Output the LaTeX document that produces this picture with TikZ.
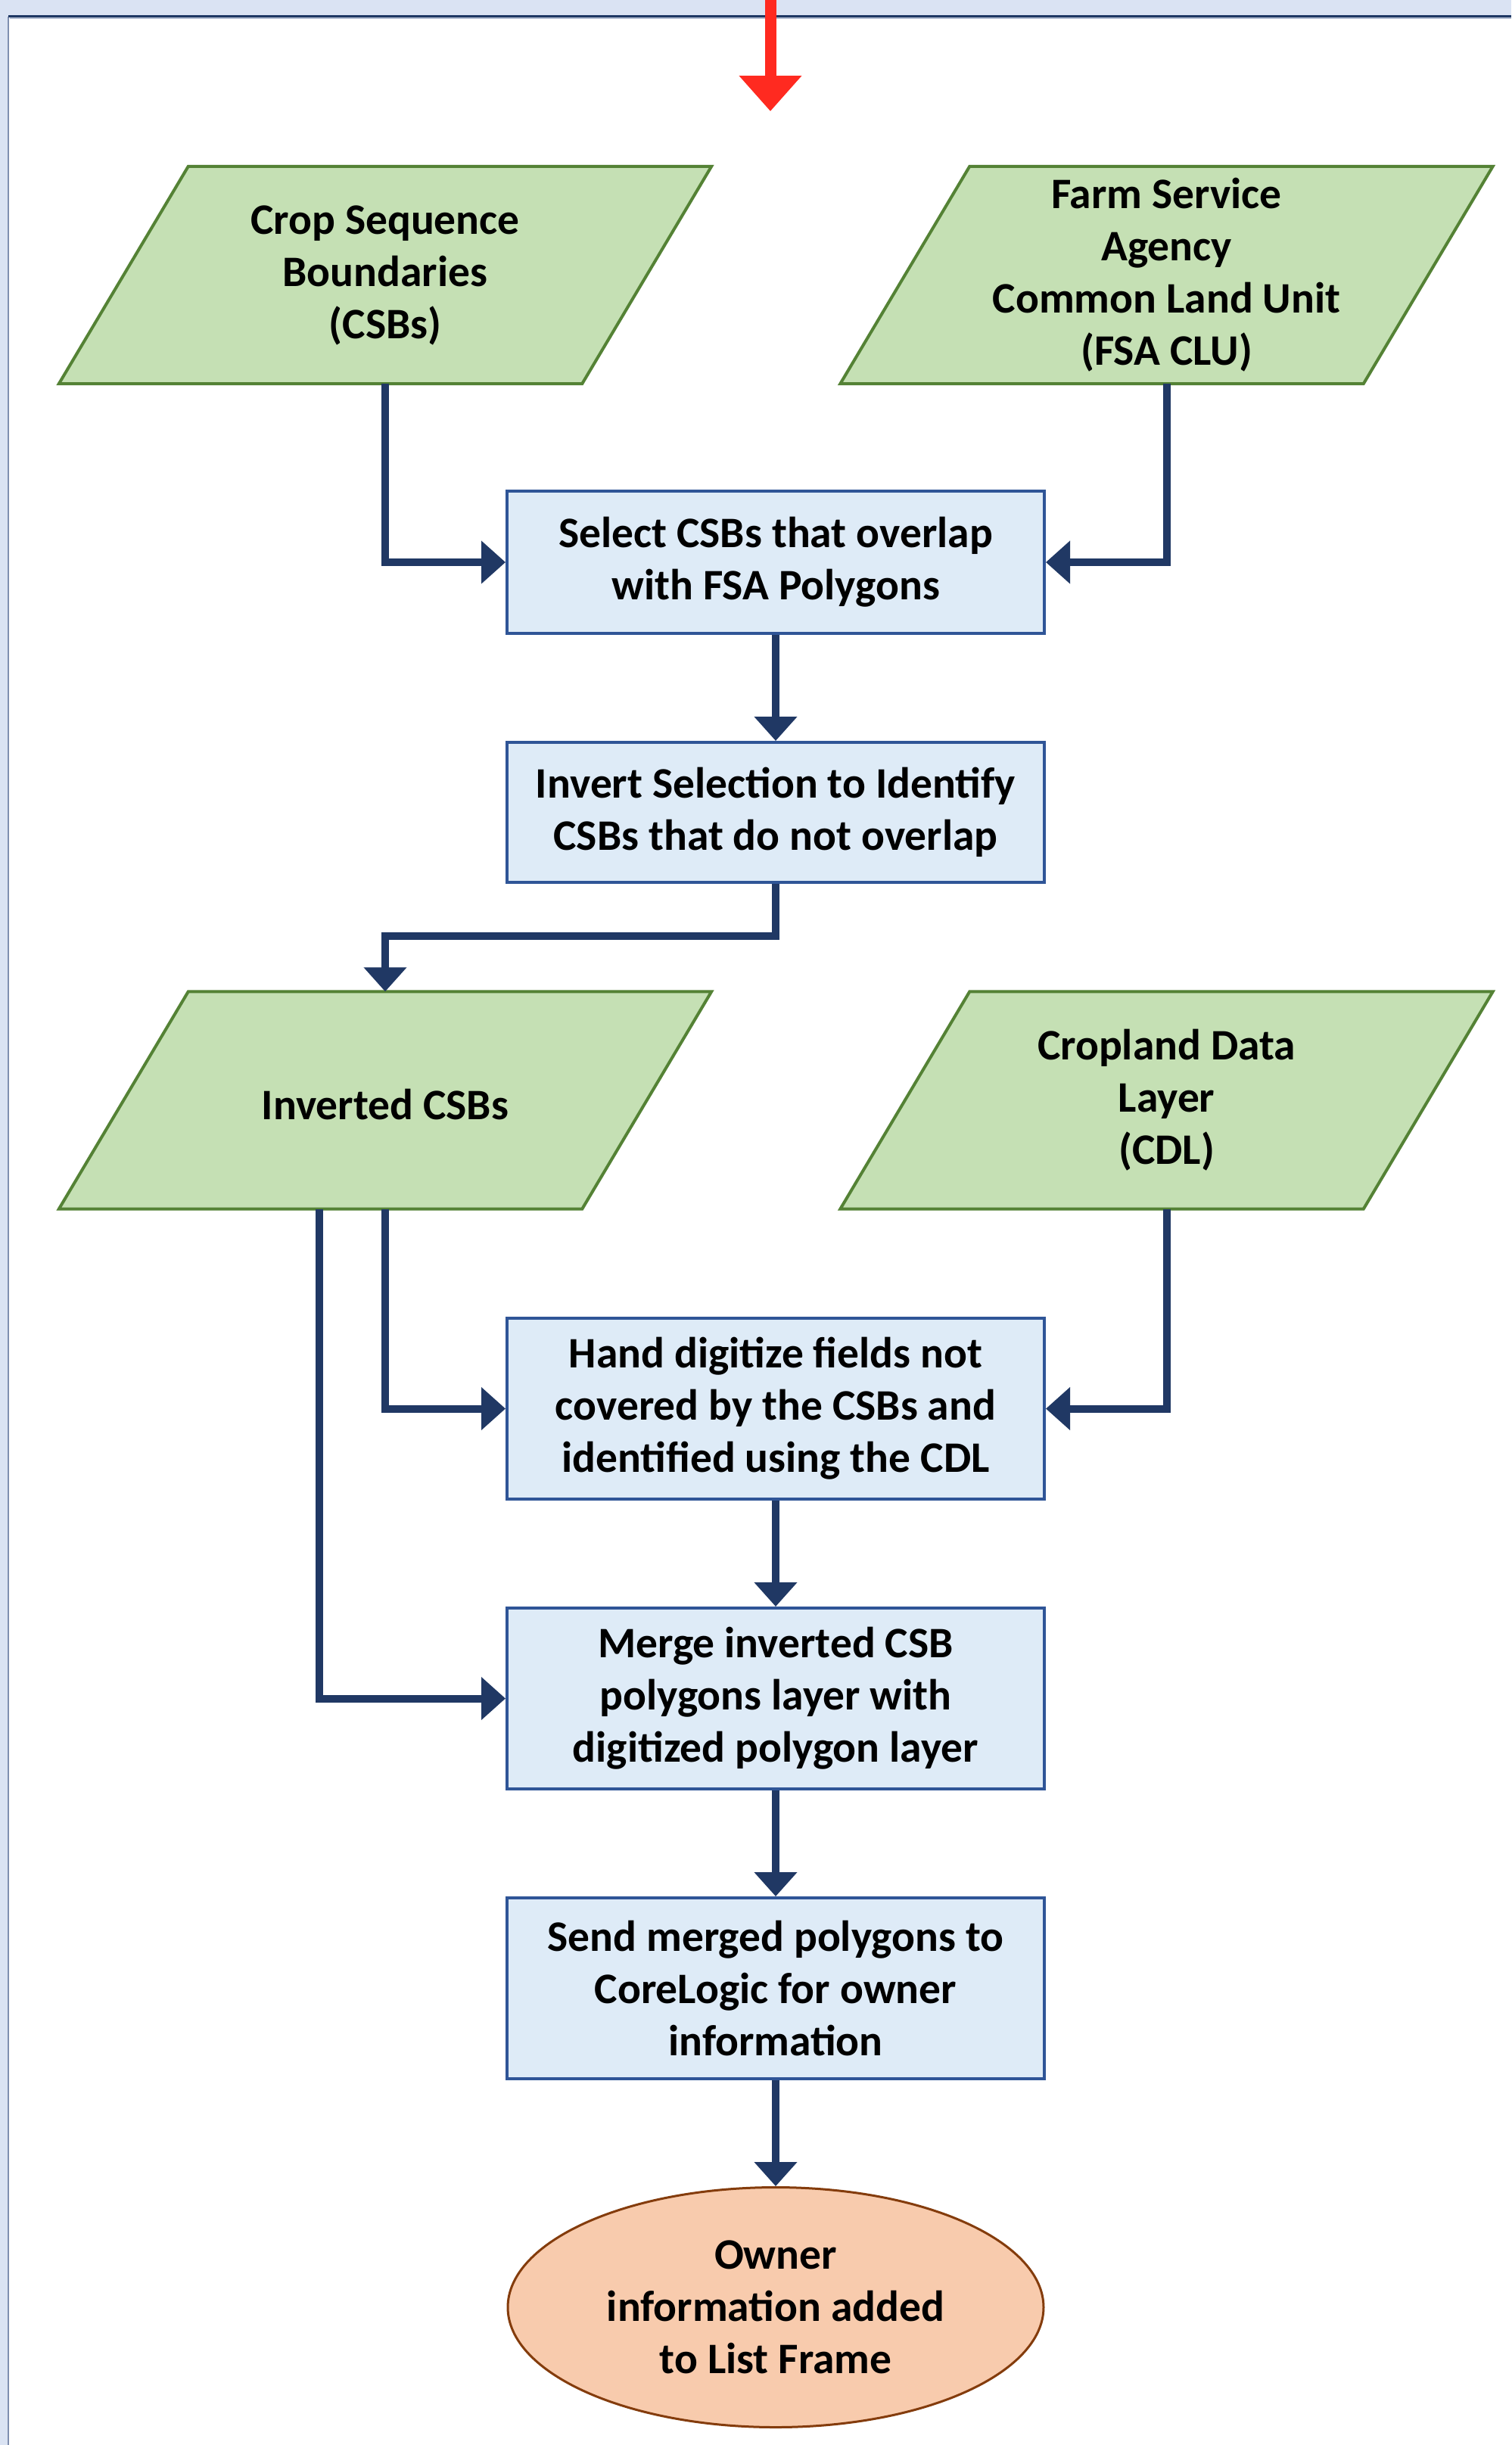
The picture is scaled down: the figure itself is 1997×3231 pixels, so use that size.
\documentclass[tikz,border=0pt]{standalone}
\usepackage{fontspec}
\setmainfont{Carlito}
\usetikzlibrary{arrows.meta,shapes.geometric,backgrounds,calc}
\definecolor{bandblue}{HTML}{DAE3F3}
\definecolor{framedark}{HTML}{1F3864}
\definecolor{frameline}{HTML}{7F8FB0}
\definecolor{grfill}{HTML}{C5E0B4}
\definecolor{grline}{HTML}{548235}
\definecolor{bxfill}{HTML}{DEEBF7}
\definecolor{bxline}{HTML}{2F5597}
\definecolor{connc}{HTML}{203864}
\definecolor{ovfill}{HTML}{F8CBAD}
\definecolor{ovline}{HTML}{843C0C}
\definecolor{redarrow}{HTML}{FF2A20}
\begin{document}
\begin{tikzpicture}[x=1pt,y=-1pt,
  txt/.style={font=\fontsize{57.5}{69}\selectfont\bfseries, align=center, text=black,
    execute at begin node={\rule{0pt}{52pt}}},
  para/.style={txt, shape=rectangle, minimum width=862, minimum height=287, inner sep=0},
  procbox/.style={txt, shape=rectangle, draw=bxline, fill=bxfill, line width=4, minimum width=710, inner sep=0},
  conn/.style={draw=connc, line width=10, -{Triangle[width=55pt,length=32pt]}},
  parafill/.style={fill=grfill, draw=grline, line width=4, line join=miter}
]
\useasboundingbox (0,0) rectangle (1997,3231);

% parallelogram data nodes (text)
\node[para] (csb) at (509,363.5) {Crop Sequence\\Boundaries\\(CSBs)};
\node[para] (fsa) at (1541.5,363.5) {Farm Service\\Agency\\Common Land Unit\\(FSA CLU)};
\node[para] (icsb) at (509,1454) {Inverted CSBs};
\node[para] (cdl) at (1541.5,1454) {Cropland Data\\Layer\\(CDL)};

\begin{scope}[on background layer]
% frame
\fill[bandblue] (0,0) rectangle (1997,3231);
\fill[white] (12,22) rectangle (1997,3231);
\draw[frameline, line width=2] (11,22) -- (11,3231);
\draw[framedark, line width=3.5] (11,21.5) -- (1997,21.5);
\draw[frameline!60, line width=1.5] (13,24) -- (1997,24);
% parallelogram shapes
\foreach \n in {csb,fsa,icsb,cdl}{
  \filldraw[parafill] (\n.south west) -- ($(\n.north west)+(171,0)$) -- (\n.north east) -- ($(\n.south east)-(171,0)$) -- cycle;
}
\end{scope}

% red incoming arrow
\coordinate (rtop) at (1018,0);
\coordinate (rtip) at (1018,147);
\draw[redarrow, line width=15, -{Triangle[width=80pt,length=47pt]}] (rtop) -- (rtip);

% process boxes
\node[procbox, minimum height=188] (sel) at (1025,743) {Select CSBs that overlap\\with FSA Polygons};
\node[procbox, minimum height=185] (inv) at (1025,1073.5) {Invert Selection to Identify\\CSBs that do not overlap};
\node[procbox, minimum height=239] (hand) at (1025,1861.5) {Hand digitize fields not\\covered by the CSBs and\\identified using the CDL};
\node[procbox, minimum height=239] (merge) at (1025,2244.5) {Merge inverted CSB\\polygons layer with\\digitized polygon layer};
\node[procbox, minimum height=239] (send) at (1025,2627.5) {Send merged polygons to\\CoreLogic for owner\\information};
\node[txt, ellipse, draw=ovline, fill=ovfill, line width=3, minimum width=708, minimum height=317, inner sep=0] (owner) at (1025,3049) {Owner\\information added\\to List Frame};

% connectors
\coordinate (k1) at (0,1237);
\draw[conn] (csb.south) |- (sel.west);
\draw[conn] (fsa.south) |- (sel.east);
\draw[conn] (sel.south) -- (inv.north);
\draw[conn] (inv.south) -- (inv.south |- k1) -| (icsb.north);
\draw[conn] (icsb.south) |- (hand.west);
\draw[conn] ([xshift=-87pt]icsb.south) |- (merge.west);
\draw[conn] (cdl.south) |- (hand.east);
\draw[conn] (hand.south) -- (merge.north);
\draw[conn] (merge.south) -- (send.north);
\draw[conn] (send.south) -- (owner.north);
\end{tikzpicture}
\end{document}
